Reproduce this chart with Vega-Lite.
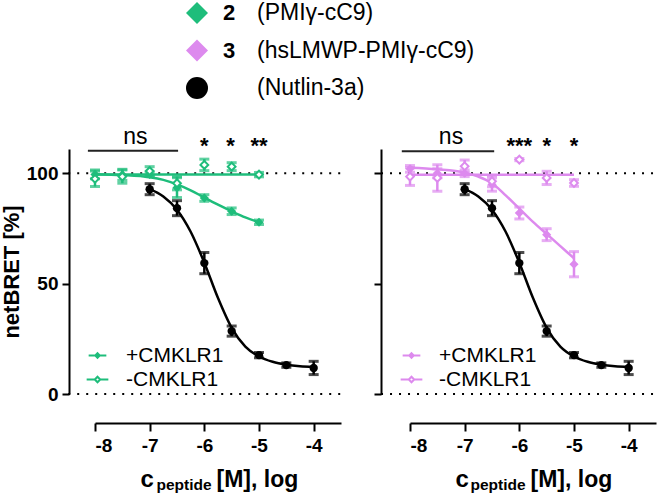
{
  "$schema": "https://vega.github.io/schema/vega-lite/v6.json",
  "background": "white",
  "padding": {"left": 0, "top": 2, "right": 1, "bottom": 3},
  "spacing": 26,
  "resolve": {"scale": {"color": "independent", "fill": "independent", "size": "independent", "shape": "independent", "x": "independent", "y": "independent"}, "legend": {"color": "independent"}},
  "config": {
    "font": "Liberation Sans",
    "view": {"stroke": null},
    "axis": {"grid": false, "domainColor": "#000", "domainWidth": 2, "tickColor": "#000", "tickWidth": 2, "labelFont": "Liberation Sans", "labelFontSize": 19, "labelFontWeight": "bold", "labelColor": "#000", "titleFont": "Liberation Sans", "titleFontSize": 23, "titleFontWeight": "bold", "titleColor": "#000"},
    "legend": {"labelFont": "Liberation Sans", "labelFontSize": 21, "labelColor": "#000", "padding": 0},
    "text": {"font": "Liberation Sans", "color": "#000"}
  },
  "datasets": {
    "one": [{}],
    "top": [
      {"kind": "2", "num": "2", "name": "(PMIγ-cC9)"},
      {"kind": "3", "num": "3", "name": "(hsLMWP-PMIγ-cC9)"},
      {"kind": "N", "num": "", "name": "(Nutlin-3a)"}
    ],
    "nut": [
      {"x": -7, "y": 92.8, "e": 2.5}, {"x": -6.5, "y": 84.2, "e": 3.4}, {"x": -6, "y": 59.3, "e": 4.8},
      {"x": -5.5, "y": 28.5, "e": 2.3}, {"x": -5, "y": 17.6, "e": 1.2}, {"x": -4.5, "y": 13.1, "e": 1}, {"x": -4, "y": 11.8, "e": 3}
    ],
    "fitNut": [
      {"x": -7, "y": 92.8}, {"x": -6.75, "y": 89.5}, {"x": -6.5, "y": 83.5}, {"x": -6.25, "y": 73.5}, {"x": -6, "y": 59.5},
      {"x": -5.75, "y": 43.5}, {"x": -5.5, "y": 30}, {"x": -5.25, "y": 21.5}, {"x": -5, "y": 17}, {"x": -4.75, "y": 14.6},
      {"x": -4.5, "y": 13.3}, {"x": -4.25, "y": 12.6}, {"x": -4, "y": 12.3}
    ],
    "p2": [
      {"cond": "+CMKLR1", "x": -8, "y": 99.5, "e": 2}, {"cond": "+CMKLR1", "x": -7.5, "y": 99.3, "e": 2.5}, {"cond": "+CMKLR1", "x": -7, "y": 99.5, "e": 1},
      {"cond": "+CMKLR1", "x": -6.5, "y": 93.5, "e": 4.5}, {"cond": "+CMKLR1", "x": -6, "y": 88.8, "e": 1.5}, {"cond": "+CMKLR1", "x": -5.5, "y": 82.8, "e": 1.5},
      {"cond": "+CMKLR1", "x": -5, "y": 77.8, "e": 1},
      {"cond": "-CMKLR1", "x": -8, "y": 97.5, "e": 3.5}, {"cond": "-CMKLR1", "x": -7.5, "y": 98.5, "e": 3}, {"cond": "-CMKLR1", "x": -7, "y": 101, "e": 2},
      {"cond": "-CMKLR1", "x": -6.5, "y": 95.5, "e": 3}, {"cond": "-CMKLR1", "x": -6, "y": 103.8, "e": 2.6}, {"cond": "-CMKLR1", "x": -5.5, "y": 103, "e": 1.8},
      {"cond": "-CMKLR1", "x": -5, "y": 99.4, "e": 1}
    ],
    "fit2": [
      {"cond": "+CMKLR1", "x": -8, "y": 99.6}, {"cond": "+CMKLR1", "x": -7.5, "y": 99.2}, {"cond": "+CMKLR1", "x": -7, "y": 98.2},
      {"cond": "+CMKLR1", "x": -6.75, "y": 97}, {"cond": "+CMKLR1", "x": -6.5, "y": 95}, {"cond": "+CMKLR1", "x": -6.25, "y": 92.3},
      {"cond": "+CMKLR1", "x": -6, "y": 89}, {"cond": "+CMKLR1", "x": -5.75, "y": 85.8}, {"cond": "+CMKLR1", "x": -5.5, "y": 82.8},
      {"cond": "+CMKLR1", "x": -5.25, "y": 80}, {"cond": "+CMKLR1", "x": -5, "y": 77.8},
      {"cond": "-CMKLR1", "x": -8, "y": 99.5}, {"cond": "-CMKLR1", "x": -5, "y": 99.5}
    ],
    "p3": [
      {"cond": "+CMKLR1", "x": -8, "y": 102, "e": 1.5}, {"cond": "+CMKLR1", "x": -7.5, "y": 100, "e": 2}, {"cond": "+CMKLR1", "x": -7, "y": 100, "e": 1.5},
      {"cond": "+CMKLR1", "x": -6.5, "y": 94.9, "e": 3}, {"cond": "+CMKLR1", "x": -6, "y": 82, "e": 2.7}, {"cond": "+CMKLR1", "x": -5.5, "y": 72.2, "e": 2.7},
      {"cond": "+CMKLR1", "x": -5, "y": 58.8, "e": 5.7},
      {"cond": "-CMKLR1", "x": -8, "y": 98.5, "e": 4}, {"cond": "-CMKLR1", "x": -7.5, "y": 97.9, "e": 6}, {"cond": "-CMKLR1", "x": -7, "y": 103.2, "e": 2.8},
      {"cond": "-CMKLR1", "x": -6.5, "y": 96.4, "e": 2.5}, {"cond": "-CMKLR1", "x": -6, "y": 106.2, "e": 0.5}, {"cond": "-CMKLR1", "x": -5.5, "y": 97.9, "e": 3},
      {"cond": "-CMKLR1", "x": -5, "y": 95.6, "e": 1.5}
    ],
    "fit3": [
      {"cond": "+CMKLR1", "x": -8, "y": 102.5}, {"cond": "+CMKLR1", "x": -7.5, "y": 101.8}, {"cond": "+CMKLR1", "x": -7, "y": 100.3},
      {"cond": "+CMKLR1", "x": -6.75, "y": 98.5}, {"cond": "+CMKLR1", "x": -6.5, "y": 95.5}, {"cond": "+CMKLR1", "x": -6.25, "y": 90},
      {"cond": "+CMKLR1", "x": -6, "y": 84}, {"cond": "+CMKLR1", "x": -5.75, "y": 78}, {"cond": "+CMKLR1", "x": -5.5, "y": 72.5},
      {"cond": "+CMKLR1", "x": -5.25, "y": 67}, {"cond": "+CMKLR1", "x": -5, "y": 61.5},
      {"cond": "-CMKLR1", "x": -8, "y": 99.3}, {"cond": "-CMKLR1", "x": -5, "y": 99.3}
    ],
    "stars2": [{"x": -6, "s": "*"}, {"x": -5.52, "s": "*"}, {"x": -5, "s": "**"}],
    "stars3": [{"x": -6, "s": "***"}, {"x": -5.5, "s": "*"}, {"x": -5, "s": "*"}]
  },
  "vconcat": [
    {
      "width": 204,
      "height": 75,
      "data": {"name": "top"},
      "encoding": {"y": {"field": "kind", "type": "nominal", "sort": null, "axis": null, "scale": {"type": "point", "padding": 0}}},
      "layer": [
        {
          "mark": {"type": "point", "filled": true, "opacity": 1},
          "encoding": {
            "shape": {"field": "kind", "type": "nominal", "scale": {"domain": ["2", "3", "N"], "range": ["diamond", "diamond", "circle"]}, "legend": null},
            "color": {"field": "kind", "type": "nominal", "scale": {"domain": ["2", "3", "N"], "range": ["#1ebd7b", "#dd8aee", "#000000"]}, "legend": null},
            "size": {"field": "kind", "type": "ordinal", "scale": {"domain": ["2", "3", "N"], "range": [484, 484, 225]}, "legend": null}
          }
        },
        {"mark": {"type": "text", "align": "left", "baseline": "middle", "dx": 26, "fontWeight": "bold", "fontSize": 22}, "encoding": {"text": {"field": "num"}}},
        {"mark": {"type": "text", "align": "left", "baseline": "middle", "dx": 60, "fontSize": 23}, "encoding": {"text": {"field": "name"}}}
      ]
    },
    {
      "spacing": 31,
      "resolve": {"scale": {"color": "independent", "fill": "independent", "size": "independent", "x": "independent", "y": "independent"}, "legend": {"color": "independent"}},
      "hconcat": [
        {
          "width": 246,
          "height": 245,
          "resolve": {"axis": {"x": "independent", "y": "independent"}},
          "layer": [
            {"data": {"name": "one"}, "mark": {"type": "rule", "strokeDash": [2, 7], "strokeWidth": 2, "color": "#000"},
             "encoding": {"x": {"datum": -8.49, "type": "quantitative", "scale": {"domain": [-8, -3.5], "nice": false, "zero": false}, "axis": null}, "x2": {"datum": -3.5},
                          "y": {"datum": 100, "type": "quantitative", "scale": {"domain": [0, 111], "nice": false, "zero": false}, "axis": null}}},
            {"data": {"name": "one"}, "mark": {"type": "rule", "strokeDash": [2, 7], "strokeWidth": 2, "color": "#000"},
             "encoding": {"x": {"datum": -8.49, "type": "quantitative", "scale": {"domain": [-8, -3.5], "nice": false, "zero": false}, "axis": null}, "x2": {"datum": -3.5},
                          "y": {"datum": 0, "type": "quantitative", "scale": {"domain": [0, 111], "nice": false, "zero": false}, "axis": null}}},
            {"data": {"name": "one"}, "mark": {"type": "rule", "strokeWidth": 2, "color": "#222"},
             "encoding": {"x": {"datum": -8.13, "type": "quantitative", "scale": {"domain": [-8, -3.5], "nice": false, "zero": false}, "axis": null}, "x2": {"datum": -6.48},
                          "y": {"datum": 110.2, "type": "quantitative", "scale": {"domain": [0, 111], "nice": false, "zero": false}, "axis": null}}},
            {"data": {"name": "one"}, "mark": {"type": "text", "text": "ns", "fontSize": 23, "align": "center", "baseline": "alphabetic"},
             "encoding": {"x": {"datum": -7.26, "type": "quantitative", "scale": {"domain": [-8, -3.5], "nice": false, "zero": false}, "axis": null},
                          "y": {"datum": 113.1, "type": "quantitative", "scale": {"domain": [0, 111], "nice": false, "zero": false}, "axis": null}}},
            {"data": {"name": "stars2"},
             "mark": {"type": "text", "fontSize": 22, "fontWeight": "bold", "align": "center", "baseline": "alphabetic"},
             "encoding": {"x": {"field": "x", "type": "quantitative", "scale": {"domain": [-8, -3.5], "nice": false, "zero": false}, "axis": null},
                          "y": {"datum": 109, "type": "quantitative", "scale": {"domain": [0, 111], "nice": false, "zero": false}, "axis": null},
                          "text": {"field": "s"}}},
            {"data": {"name": "fitNut"},
             "mark": {"type": "line", "color": "#000", "strokeWidth": 2.5, "interpolate": "monotone"},
             "encoding": {"x": {"field": "x", "type": "quantitative", "scale": {"domain": [-8, -3.5], "nice": false, "zero": false},
                                "axis": {"orient": "bottom", "offset": 29, "labels": false, "ticks": false, "domain": false, "title": "[M], log", "titleX": 121, "titleY": 63, "titleAlign": "left", "titleBaseline": "alphabetic"}},
                          "y": {"field": "y", "type": "quantitative", "scale": {"domain": [0, 111], "nice": false, "zero": false}, "axis": null}}},
            {"data": {"name": "fit2"},
             "mark": {"type": "line", "strokeWidth": 2.5, "interpolate": "monotone"},
             "encoding": {"x": {"field": "x", "type": "quantitative", "scale": {"domain": [-8, -3.5], "nice": false, "zero": false},
                                "axis": {"orient": "bottom", "offset": 29, "labels": false, "ticks": false, "domain": false, "title": "peptide", "titleX": 61, "titleY": 66, "titleAlign": "left", "titleBaseline": "alphabetic", "titleFontSize": 15.5}},
                          "y": {"field": "y", "type": "quantitative", "scale": {"domain": [0, 111], "nice": false, "zero": false}, "axis": null},
                          "color": {"field": "cond", "type": "nominal", "scale": {"domain": ["+CMKLR1", "-CMKLR1"], "range": ["#1ebd7b", "#1ebd7b"]},
                                    "legend": {"title": null, "orient": "none", "legendX": -8, "legendY": 196, "symbolType": "M-2.8,0L-0.7,0M0.7,0L2.8,0M0,-0.7L0.7,0L0,0.7L-0.7,0Z", "symbolSize": 196, "symbolStrokeWidth": 2, "labelOffset": 18, "rowPadding": 2,
                                               "encode": {"symbols": {"update": {"size": {"value": 196}, "fill": {"signal": "datum.value === '+CMKLR1' ? '#1ebd7b' : '#ffffff'"}}}}}}}},
            {"data": {"name": "nut"},
             "mark": {"type": "errorbar", "color": "#000", "ticks": {"size": 10, "thickness": 3}, "rule": {"strokeWidth": 2.5}},
             "encoding": {"x": {"field": "x", "type": "quantitative", "scale": {"domain": [-8, -3.5], "nice": false, "zero": false}, "axis": null},
                          "y": {"field": "y", "type": "quantitative", "scale": {"domain": [0, 111], "nice": false, "zero": false}, "axis": null},
                          "yError": {"field": "e"}}},
            {"data": {"name": "p2"},
             "mark": {"type": "errorbar", "color": "#1ebd7b", "ticks": {"size": 10, "thickness": 3}, "rule": {"strokeWidth": 2.5}},
             "encoding": {"x": {"field": "x", "type": "quantitative", "scale": {"domain": [-8, -3.5], "nice": false, "zero": false}, "axis": null},
                          "y": {"field": "y", "type": "quantitative", "scale": {"domain": [0, 111], "nice": false, "zero": false}, "axis": null},
                          "yError": {"field": "e"}}},
            {"data": {"name": "nut"},
             "mark": {"type": "point", "shape": "circle", "filled": true, "color": "#000", "size": 70, "opacity": 1},
             "encoding": {"x": {"field": "x", "type": "quantitative", "scale": {"domain": [-8, -3.5], "nice": false, "zero": false}, "axis": null},
                          "y": {"field": "y", "type": "quantitative", "scale": {"domain": [0, 111], "nice": false, "zero": false}, "axis": null}}},
            {"data": {"name": "p2"},
             "mark": {"type": "point", "shape": "diamond", "strokeWidth": 2, "opacity": 1},
             "encoding": {"x": {"field": "x", "type": "quantitative", "scale": {"domain": [-8, -3.5], "nice": false, "zero": false},
                                "axis": {"orient": "bottom", "offset": 29, "values": [-8, -7, -6, -5, -4], "labelExpr": "'' + datum.value", "tickSize": 8, "labelPadding": 5, "title": "c", "titleX": 45, "titleY": 63, "titleAlign": "left", "titleBaseline": "alphabetic", "titleFontSize": 24}},
                          "y": {"field": "y", "type": "quantitative", "scale": {"domain": [0, 111], "nice": false, "zero": false},
                                "axis": {"orient": "left", "values": [0, 50, 100], "offset": 26, "tickSize": 7, "labelPadding": 4, "title": "netBRET [%]", "titlePadding": 3, "titleFontSize": 22}},
                          "fill": {"field": "cond", "type": "nominal", "scale": {"domain": ["+CMKLR1", "-CMKLR1"], "range": ["#1ebd7b", "#ffffff"]}, "legend": null},
                          "stroke": {"value": "#1ebd7b"},
                          "size": {"field": "cond", "type": "ordinal", "scale": {"domain": ["+CMKLR1", "-CMKLR1"], "range": [40, 60]}, "legend": null}}}
          ]
        },
        {
          "width": 246,
          "height": 245,
          "resolve": {"axis": {"x": "independent", "y": "independent"}},
          "layer": [
            {"data": {"name": "one"}, "mark": {"type": "rule", "strokeDash": [2, 7], "strokeWidth": 2, "color": "#000"},
             "encoding": {"x": {"datum": -8.53, "type": "quantitative", "scale": {"domain": [-8, -3.5], "nice": false, "zero": false}, "axis": null}, "x2": {"datum": -3.5},
                          "y": {"datum": 100, "type": "quantitative", "scale": {"domain": [0, 111], "nice": false, "zero": false}, "axis": null}}},
            {"data": {"name": "one"}, "mark": {"type": "rule", "strokeDash": [2, 7], "strokeWidth": 2, "color": "#000"},
             "encoding": {"x": {"datum": -8.53, "type": "quantitative", "scale": {"domain": [-8, -3.5], "nice": false, "zero": false}, "axis": null}, "x2": {"datum": -3.5},
                          "y": {"datum": 0, "type": "quantitative", "scale": {"domain": [0, 111], "nice": false, "zero": false}, "axis": null}}},
            {"data": {"name": "one"}, "mark": {"type": "rule", "strokeWidth": 2, "color": "#222"},
             "encoding": {"x": {"datum": -8.15, "type": "quantitative", "scale": {"domain": [-8, -3.5], "nice": false, "zero": false}, "axis": null}, "x2": {"datum": -6.46},
                          "y": {"datum": 110, "type": "quantitative", "scale": {"domain": [0, 111], "nice": false, "zero": false}, "axis": null}}},
            {"data": {"name": "one"}, "mark": {"type": "text", "text": "ns", "fontSize": 23, "align": "center", "baseline": "alphabetic"},
             "encoding": {"x": {"datum": -7.25, "type": "quantitative", "scale": {"domain": [-8, -3.5], "nice": false, "zero": false}, "axis": null},
                          "y": {"datum": 113.1, "type": "quantitative", "scale": {"domain": [0, 111], "nice": false, "zero": false}, "axis": null}}},
            {"data": {"name": "stars3"},
             "mark": {"type": "text", "fontSize": 22, "fontWeight": "bold", "align": "center", "baseline": "alphabetic"},
             "encoding": {"x": {"field": "x", "type": "quantitative", "scale": {"domain": [-8, -3.5], "nice": false, "zero": false}, "axis": null},
                          "y": {"datum": 109, "type": "quantitative", "scale": {"domain": [0, 111], "nice": false, "zero": false}, "axis": null},
                          "text": {"field": "s"}}},
            {"data": {"name": "fitNut"},
             "mark": {"type": "line", "color": "#000", "strokeWidth": 2.5, "interpolate": "monotone"},
             "encoding": {"x": {"field": "x", "type": "quantitative", "scale": {"domain": [-8, -3.5], "nice": false, "zero": false},
                                "axis": {"orient": "bottom", "offset": 29, "labels": false, "ticks": false, "domain": false, "title": "[M], log", "titleX": 120, "titleY": 63, "titleAlign": "left", "titleBaseline": "alphabetic"}},
                          "y": {"field": "y", "type": "quantitative", "scale": {"domain": [0, 111], "nice": false, "zero": false}, "axis": null}}},
            {"data": {"name": "fit3"},
             "mark": {"type": "line", "strokeWidth": 2.5, "interpolate": "monotone"},
             "encoding": {"x": {"field": "x", "type": "quantitative", "scale": {"domain": [-8, -3.5], "nice": false, "zero": false},
                                "axis": {"orient": "bottom", "offset": 29, "labels": false, "ticks": false, "domain": false, "title": "peptide", "titleX": 60, "titleY": 66, "titleAlign": "left", "titleBaseline": "alphabetic", "titleFontSize": 15.5}},
                          "y": {"field": "y", "type": "quantitative", "scale": {"domain": [0, 111], "nice": false, "zero": false}, "axis": null},
                          "color": {"field": "cond", "type": "nominal", "scale": {"domain": ["+CMKLR1", "-CMKLR1"], "range": ["#dd8aee", "#dd8aee"]},
                                    "legend": {"title": null, "orient": "none", "legendX": -9, "legendY": 196, "symbolType": "M-2.8,0L-0.7,0M0.7,0L2.8,0M0,-0.7L0.7,0L0,0.7L-0.7,0Z", "symbolSize": 196, "symbolStrokeWidth": 2, "labelOffset": 17, "rowPadding": 2,
                                               "encode": {"symbols": {"update": {"size": {"value": 196}, "fill": {"signal": "datum.value === '+CMKLR1' ? '#dd8aee' : '#ffffff'"}}}}}}}},
            {"data": {"name": "nut"},
             "mark": {"type": "errorbar", "color": "#000", "ticks": {"size": 10, "thickness": 3}, "rule": {"strokeWidth": 2.5}},
             "encoding": {"x": {"field": "x", "type": "quantitative", "scale": {"domain": [-8, -3.5], "nice": false, "zero": false}, "axis": null},
                          "y": {"field": "y", "type": "quantitative", "scale": {"domain": [0, 111], "nice": false, "zero": false}, "axis": null},
                          "yError": {"field": "e"}}},
            {"data": {"name": "p3"},
             "mark": {"type": "errorbar", "color": "#dd8aee", "ticks": {"size": 10, "thickness": 3}, "rule": {"strokeWidth": 2.5}},
             "encoding": {"x": {"field": "x", "type": "quantitative", "scale": {"domain": [-8, -3.5], "nice": false, "zero": false}, "axis": null},
                          "y": {"field": "y", "type": "quantitative", "scale": {"domain": [0, 111], "nice": false, "zero": false}, "axis": null},
                          "yError": {"field": "e"}}},
            {"data": {"name": "nut"},
             "mark": {"type": "point", "shape": "circle", "filled": true, "color": "#000", "size": 70, "opacity": 1},
             "encoding": {"x": {"field": "x", "type": "quantitative", "scale": {"domain": [-8, -3.5], "nice": false, "zero": false}, "axis": null},
                          "y": {"field": "y", "type": "quantitative", "scale": {"domain": [0, 111], "nice": false, "zero": false}, "axis": null}}},
            {"data": {"name": "p3"},
             "mark": {"type": "point", "shape": "diamond", "strokeWidth": 2, "opacity": 1},
             "encoding": {"x": {"field": "x", "type": "quantitative", "scale": {"domain": [-8, -3.5], "nice": false, "zero": false},
                                "axis": {"orient": "bottom", "offset": 29, "values": [-8, -7, -6, -5, -4], "labelExpr": "'' + datum.value", "tickSize": 8, "labelPadding": 5, "title": "c", "titleX": 45, "titleY": 63, "titleAlign": "left", "titleBaseline": "alphabetic", "titleFontSize": 24}},
                          "y": {"field": "y", "type": "quantitative", "scale": {"domain": [0, 111], "nice": false, "zero": false},
                                "axis": {"orient": "left", "values": [0, 50, 100], "offset": 29, "tickSize": 7, "labels": false, "title": null}},
                          "fill": {"field": "cond", "type": "nominal", "scale": {"domain": ["+CMKLR1", "-CMKLR1"], "range": ["#dd8aee", "#ffffff"]}, "legend": null},
                          "stroke": {"value": "#dd8aee"},
                          "size": {"field": "cond", "type": "ordinal", "scale": {"domain": ["+CMKLR1", "-CMKLR1"], "range": [40, 60]}, "legend": null}}}
          ]
        }
      ]
    }
  ]
}
